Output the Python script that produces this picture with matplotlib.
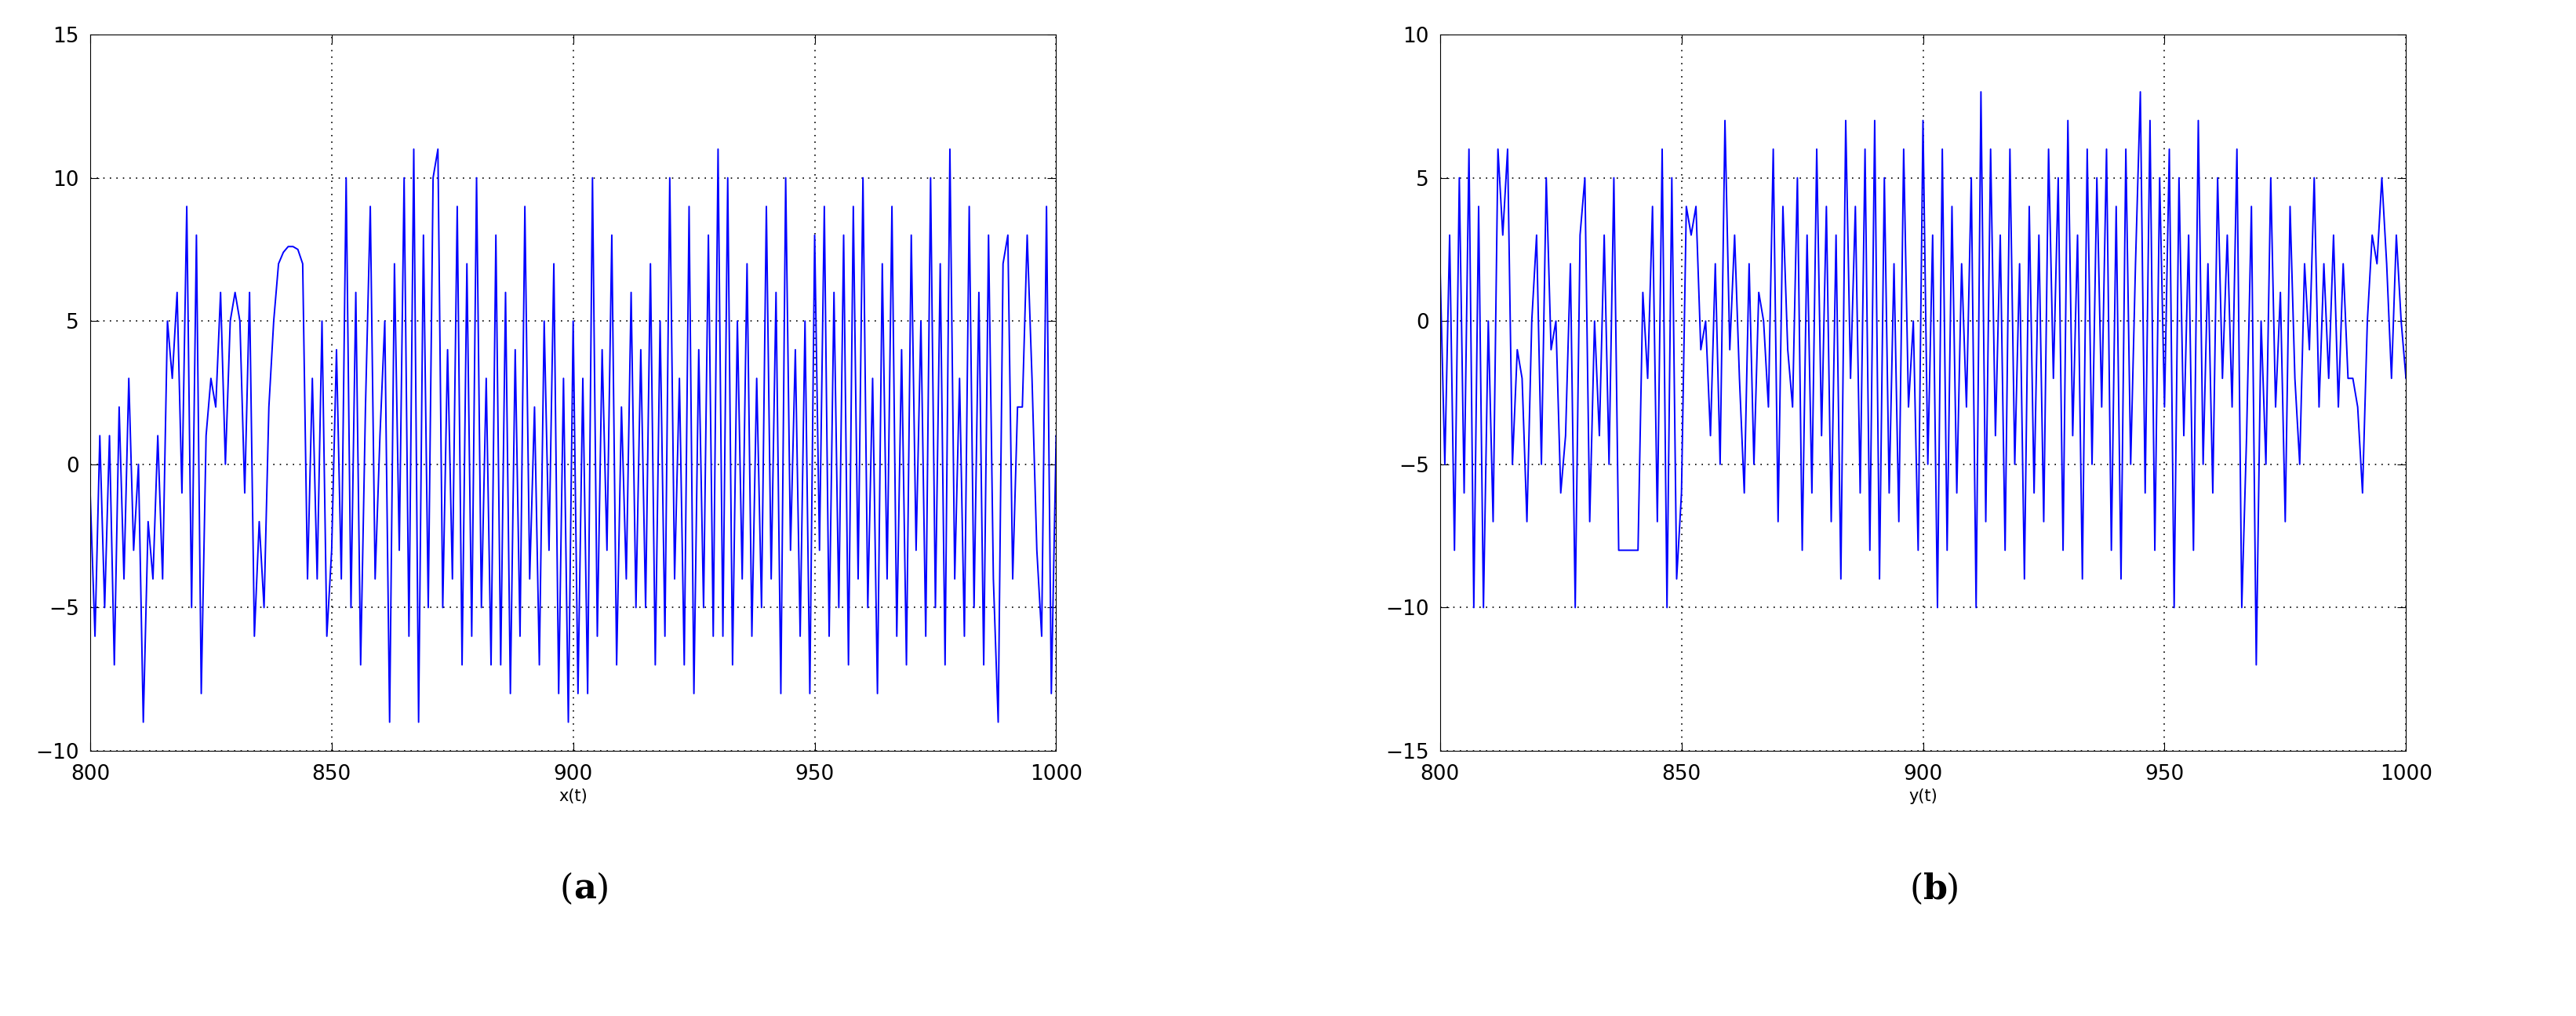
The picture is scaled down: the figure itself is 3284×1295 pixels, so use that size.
import matplotlib
matplotlib.use("Agg")
import matplotlib.pyplot as plt
import numpy as np

t = list(range(800, 1001))
x_vals = [-1,-6,1,-5,1,-7,2,-4,3,-3,
0,-9,-2,-4,1,-4,5,3,6,-1,
9,-5,8,-8,1,3,2,6,0,5,
6,5,-1,6,-6,-2,-5,2,5,7,
7.4,7.6,7.6,7.5,7,-4,3,-4,5,-6,
-3,4,-4,10,-5,6,-7,2,9,-4,
1,5,-9,7,-3,10,-6,11,-9,8,
-5,10,11,-5,4,-4,9,-7,7,-6,
10,-5,3,-7,8,-7,6,-8,4,-6,
9,-4,2,-7,5,-3,7,-8,3,-9,
5,-8,3,-8,10,-6,4,-3,8,-7,
2,-4,6,-5,4,-5,7,-7,5,-6,
10,-4,3,-7,9,-8,4,-5,8,-6,
11,-6,10,-7,5,-4,7,-6,3,-5,
9,-4,6,-8,10,-3,4,-6,5,-8,
8,-3,9,-6,6,-5,8,-7,9,-4,
10,-5,3,-8,7,-4,9,-6,4,-7,
8,-3,5,-6,10,-5,7,-7,11,-4,
3,-6,9,-5,6,-7,8,-4,-9,7,
8,-4,2,2,8,3,-3,-6,9,-8,1]
y_vals = [2,-5,3,-8,5,-6,6,-10,4,-10,
0,-7,6,3,6,-5,-1,-2,-7,0,
3,-5,5,-1,0,-6,-4,2,-10,3,
5,-7,0,-4,3,-5,5,-8,-8,-8,
-8,-8,1,-2,4,-7,6,-10,5,-9,
-6,4,3,4,-1,0,-4,2,-5,7,
-1,3,-2,-6,2,-5,1,0,-3,6,
-7,4,-1,-3,5,-8,3,-6,6,-4,
4,-7,3,-9,7,-2,4,-6,6,-8,
7,-9,5,-6,2,-7,6,-3,0,-8,
7,-5,3,-10,6,-8,4,-6,2,-3,
5,-10,8,-7,6,-4,3,-8,6,-5,
2,-9,4,-6,3,-7,6,-2,5,-8,
7,-4,3,-9,6,-5,5,-3,6,-8,
4,-9,6,-5,2,8,-6,7,-8,5,
-3,6,-10,5,-4,3,-8,7,-5,2,
-6,5,-2,3,-3,6,-10,-4,4,-12,
0,-5,5,-3,1,-7,4,-2,-5,2,
-1,5,-3,2,-2,3,-3,2,-2,-2,
-3,-6,0,3,2,5,2,-2,3,0,-2]

x_ticks = [800, 850, 900, 950, 1000]
panels = [
    (x_vals, "x(t)", "a", [-10, 15], [-10, -5, 0, 5, 10, 15], 0.035),
    (y_vals, "y(t)", "b", [-15, 10], [-15, -10, -5, 0, 5, 10], 0.559),
]

fig = plt.figure(figsize=(32.84, 12.95), dpi=100)
for vals, lab, tag, ylim, yt, left in panels:
    ax = fig.add_axes([left, 0.261, 0.375, 0.705])
    ax.plot(t, vals, color="#0000ff", lw=1.4)
    ax.set_xlim(800, 1000)
    ax.set_ylim(*ylim)
    ax.set_xticks(x_ticks)
    ax.set_yticks(yt)
    ax.grid(True, color="black", linestyle=(0, (1, 4)), lw=1.2)
    ax.tick_params(direction="in", labelsize=19, length=8, top=True, right=True)
    ax.tick_params(axis="x", pad=12)
    ax.tick_params(axis="y", pad=10)
    ax.set_xlabel(lab, fontsize=15, labelpad=4)
    cx = left + 0.375 / 2
    fig.text(cx, 0.125, "(", fontsize=32, family="DejaVu Serif", ha="right", va="center")
    fig.text(cx, 0.125, tag, fontsize=32, family="DejaVu Serif", weight="bold", ha="left", va="center")
    fig.text(cx + 0.009, 0.125, ")", fontsize=32, family="DejaVu Serif", ha="left", va="center")
fig.savefig("out.png", dpi=100)
